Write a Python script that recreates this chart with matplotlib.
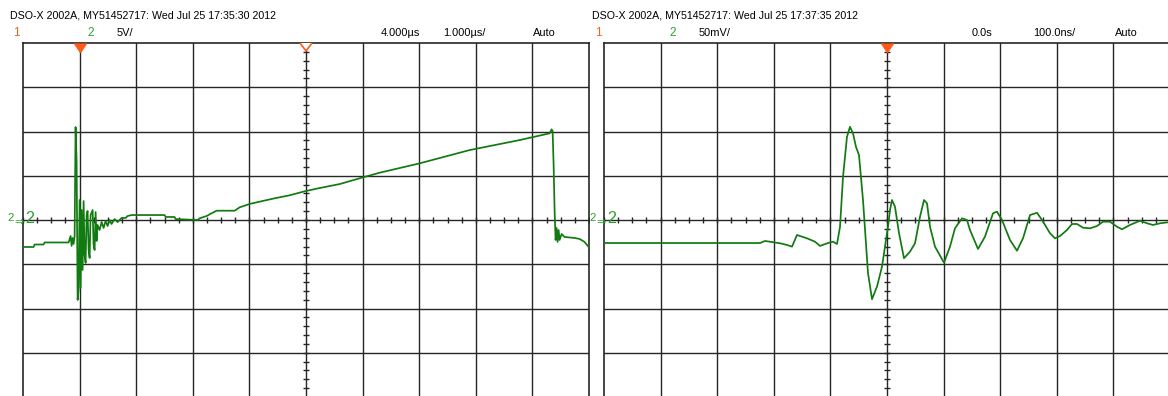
import matplotlib
matplotlib.use('Agg')
import matplotlib.pyplot as plt
from matplotlib import font_manager

# --- channel 2, 1 us/div, 5 V/div (time in us, volts)
t_a = [-1.007, -0.813, -0.795, -0.636, -0.618, -0.194, -0.159, -0.141, -0.124, -0.106,
       -0.088, -0.071, -0.053, -0.035, -0.018, 0.0, 0.018, 0.035, 0.053, 0.071,
       0.088, 0.106, 0.124, 0.141, 0.159, 0.177, 0.194, 0.230, 0.247, 0.265,
       0.283, 0.300, 0.318, 0.353, 0.389, 0.424, 0.459, 0.495, 0.530, 0.565,
       0.618, 0.671, 0.742, 0.813, 0.848, 0.919, 1.502, 1.519, 1.678, 1.696,
       2.085, 2.120, 2.244, 2.332, 2.420, 2.739, 2.827, 3.004, 3.180, 3.445,
       3.710, 3.993, 4.240, 4.594, 4.947, 5.300, 6.007, 6.890, 7.774, 8.304,
       8.339, 8.357, 8.375, 8.392, 8.410, 8.428, 8.445, 8.463, 8.481, 8.516,
       8.569, 8.746, 8.834, 8.922, 8.993]
v_a = [-3.05, -3.05, -2.77, -2.77, -2.54, -2.54, -1.81, -2.93, -2.03, -2.71,
       -1.81, 10.50, 6.77, -9.03, -7.90, 2.26, -7.68, 1.13, -5.64, 2.14,
       -3.95, -4.85, 0.56, 1.02, -3.39, -4.29, 0.56, 1.13, -2.82, -3.39,
       0.90, -2.37, -0.56, -1.13, -0.23, -0.90, -0.11, -0.68, 0.0, -0.45,
       0.11, -0.23, 0.23, 0.23, 0.45, 0.56, 0.56, 0.34, 0.34, 0.11,
       0.0, 0.19, 0.45, 0.76, 1.05, 1.05, 1.43, 1.81, 2.07, 2.45,
       2.79, 3.27, 3.61, 4.06, 4.71, 5.34, 6.40, 7.90, 9.03, 9.79,
       10.24, 10.05, 6.21, 1.13, -2.26, -0.90, -2.48, -1.13, -2.26, -1.58,
       -1.92, -2.03, -2.14, -2.48, -3.05]

# --- channel 2, 100 ns/div, 50 mV/div (time in ns, millivolts)
t_b = [-500, -418.7, -330.4, -224.4, -215.5, -189.0, -176.7, -167.8, -159.0, -153.7,
       -141.3, -127.2, -118.4, -104.2, -95.4, -88.3, -83.0, -77.7, -70.7, -65.4,
       -60.1, -54.8, -49.5, -42.4, -33.6, -26.5, -17.7, -8.8, -1.8, 1.8,
       5.3, 8.8, 14.1, 21.2, 30.0, 40.6, 49.5, 58.3, 65.4, 70.7,
       76.0, 84.8, 100.7, 111.3, 120.1, 132.5, 141.3, 146.6, 160.8, 173.1,
       187.3, 194.3, 203.2, 217.3, 229.7, 240.3, 252.7, 265.0, 273.9, 288.0,
       296.8, 305.7, 318.0, 326.9, 335.7, 346.3, 358.7, 371.0, 381.6, 394.0,
       406.4, 415.2, 429.3, 447.0, 459.4, 470.0, 482.4, 500]
v_b = [-26.0, -26.0, -26.0, -26.0, -23.7, -26.3, -28.2, -30.1, -16.9, -18.1,
       -20.7, -24.5, -29.3, -26.0, -24.5, -27.1, -7.6, 48.9, 94.0, 105.3,
       97.9, 82.7, 73.4, 22.6, -59.8, -89.5, -75.3, -52.7, -22.6, -7.6,
       11.3, 22.6, 15.0, -14.7, -43.2, -35.8, -26.3, 3.7, 22.6, 18.8,
       -7.6, -30.1, -48.2, -30.1, -9.4, 1.9, 0.0, -11.3, -32.7, -18.8,
       7.6, 9.4, 0.0, -22.6, -34.7, -20.7, 5.6, 8.2, 0.0, -15.0,
       -20.7, -18.1, -11.3, -4.5, -4.5, -8.7, -9.4, -6.8, -1.9, -1.9,
       -7.6, -10.5, -5.6, -0.8, -3.7, -5.6, -3.7, -2.3]

headers = ['DSO-X 2002A, MY51452717: Wed Jul 25 17:35:30 2012',
           'DSO-X 2002A, MY51452717: Wed Jul 25 17:37:35 2012']
scales = ['5V/', '50mV/']
delays = ['4.000\u00b5s', '0.0s']
timebases = ['1.000\u00b5s/', '100.0ns/']

W, H = 1168, 396
names = {f.name for f in font_manager.fontManager.ttflist}
FONT = 'Liberation Sans Narrow' if 'Liberation Sans Narrow' in names else 'Liberation Sans'
FS = 8.8 if FONT == 'Liberation Sans Narrow' else 7.65

GRID = '#262626'
TRACE = '#117a10'
ORANGE = '#ff5a1a'
GREEN = '#2ca02c'

fig = plt.figure(figsize=(W / 100, H / 100), dpi=100)
fig.patch.set_facecolor('white')


def px(x, y):
    return x / W, 1 - y / H


def scope(left, t, v, xdiv, ydiv, delay_div):
    ax = fig.add_axes([left / W, -1.0 / H, 566 / W, 354 / H])
    x0 = delay_div * xdiv - 5 * xdiv
    ax.set_xlim(x0, x0 + 10 * xdiv)
    ax.set_ylim(-4 * ydiv, 4 * ydiv)
    ax.set_xticks([])
    ax.set_yticks([])
    for s in ax.spines.values():
        s.set_color(GRID)
        s.set_linewidth(1.2)
    # graticule
    for i in range(1, 10):
        ax.axvline(x0 + i * xdiv, color=GRID, lw=1.0, zorder=1)
    for j in range(-3, 4):
        ax.axhline(j * ydiv, color=GRID, lw=1.0, zorder=1)
    xc = x0 + 5 * xdiv
    ax.plot([x0 + k * xdiv / 4 for k in range(41)], [0] * 41, ls='none',
            marker='|', ms=5, mew=1.0, color=GRID, zorder=1)
    ax.plot([xc] * 41, [-4 * ydiv + k * ydiv / 5 for k in range(41)], ls='none',
            marker='_', ms=5, mew=1.0, color=GRID, zorder=1)
    ax.plot(t, v, color=TRACE, lw=1.25, zorder=3)
    # trigger point and delay reference
    ax.plot(0, 4 * ydiv, marker=11, ms=9, color=ORANGE, clip_on=False, zorder=5)
    if delay_div != 0:
        ax.plot(xc, 4 * ydiv, marker=11, ms=8, mfc='white', mec=ORANGE,
                mew=1.2, clip_on=False, zorder=5)
    return ax


ax1 = scope(23, t_a, v_a, 1.0, 5.0, 4)
ax2 = scope(604, t_b, v_b, 100.0, 50.0, 0)

# header rows
for x_off, hdr, sc, dl, tb in zip([0, 582], headers, scales, delays, timebases):
    fig.text(*px(10 + x_off, 15), hdr, family=FONT, size=FS, va='center', ha='left')
    fig.text(*px(13 + x_off, 33), '1', family=FONT, size=FS + 0.8, color=ORANGE, va='center')
    fig.text(*px(87 + x_off, 33), '2', family=FONT, size=FS + 0.8, color=GREEN, va='center')
    fig.text(*px(117 + x_off, 33), sc, family=FONT, size=FS + 0.3, va='center')
    fig.text(*px((420 if x_off == 0 else 410) + x_off, 33), dl, family=FONT,
             size=FS + 0.3, va='center', ha='right')
    fig.text(*px(443 + x_off + (8 if x_off else 0), 33), tb, family=FONT,
             size=FS + 0.3, va='center')
    fig.text(*px(533 + x_off, 33), 'Auto', family=FONT, size=FS + 0.3, va='center')
    # channel 2 ground reference
    fig.text(*px(7 + x_off, 218), '2', family=FONT, size=FS + 0.5, color=GREEN, va='center')
    fig.text(*px(14 + x_off, 222), '\u21d2', size=8, color=GREEN, va='center')
    fig.text(*px(25 + x_off, 219), '2', family=FONT, size=FS + 4, color=GREEN, va='center')

fig.savefig('out.png', dpi=100, facecolor='white')
